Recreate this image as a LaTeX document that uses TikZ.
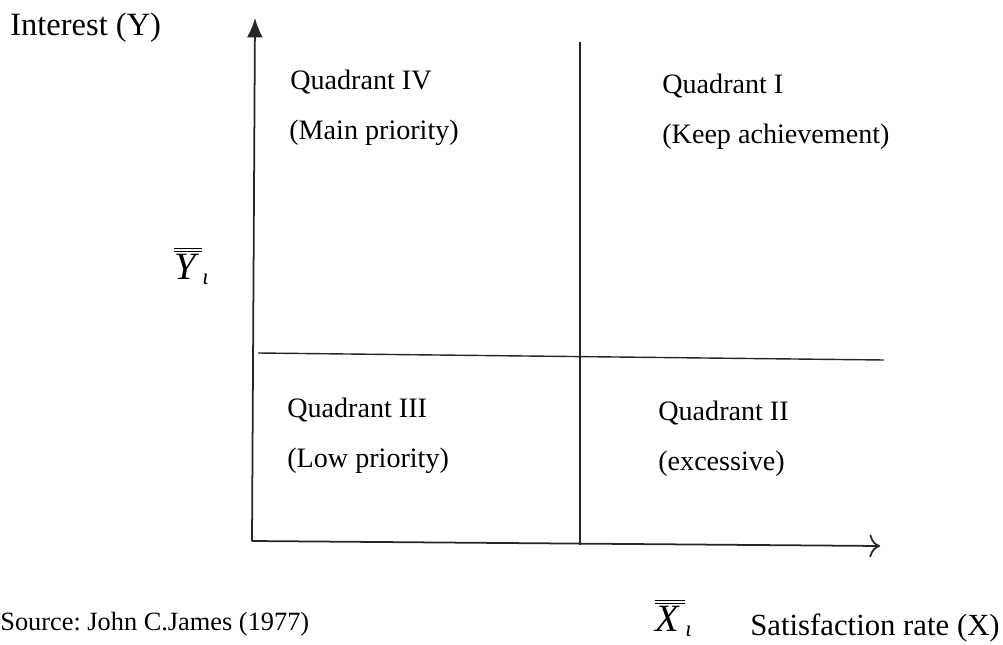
\documentclass[tikz,border=0pt]{standalone}
\usepackage{fontspec}
\setmainfont{Liberation Serif}
\usetikzlibrary{arrows.meta}
\frenchspacing
\newcommand{\meanvar}[1]{$\overline{\overline{\mbox{\itshape #1\,}}}_{\mbox{\itshape\fontsize{13}{13}\selectfont ι}}$}
\begin{document}
\begin{tikzpicture}[
    x=0.02cm, y=-0.02cm,
    label/.style={anchor=west, inner sep=0pt, font=\fontsize{16}{19}\selectfont},
    axis/.style={line width=1pt, black!85},
    divider/.style={line width=0.8pt, black!85}
]
\useasboundingbox (0,0) rectangle (1003,645);

% axes
\coordinate (o) at (252,541);
\coordinate (ytop) at (255,18);
\coordinate (xend) at (880,546);
\draw[axis, -{Latex[length=11pt,width=9pt]}] (o) -- (ytop);
\draw[axis, -{To[length=6pt,width=13pt]}] (o) -- (xend);

% dividers
\coordinate (vtop) at (580,42);
\coordinate (vbot) at (580,545);
\coordinate (hl) at (258,353);
\coordinate (hr) at (884,360);
\draw[divider] (vtop) -- (vbot);
\draw[divider] (hl) -- (hr);

% quadrants
\node[label] (q4) at (290,82)  {Quadrant IV};
\node[label] (q4t) at (289,133) {(Main priority)};
\node[label] (q1) at (662,86)  {Quadrant I};
\node[label] (q1t) at (662,137) {(Keep achievement)};
\node[label] (q3) at (287,410) {Quadrant III};
\node[label] (q3t) at (287,461) {(Low priority)};
\node[label] (q2) at (658,413) {Quadrant II};
\node[label] (q2t) at (658,464) {(excessive)};

% axis labels
\node[label, font=\fontsize{18.5}{21}\selectfont] (ylab) at (10,28) {Interest (Y)};
\node[font=\fontsize{22}{24}\selectfont] (ybar) at (192,266) {\meanvar{Y}};
\node[font=\fontsize{22}{24}\selectfont] (xbar) at (674,618) {\meanvar{X}};
\node[label, font=\fontsize{17.5}{20}\selectfont] (xlab) at (750,628) {Satisfaction rate (X)};
\node[label, font=\fontsize{15}{18}\selectfont] (src) at (0,624) {Source: John C.James (1977)};
\end{tikzpicture}
\end{document}
